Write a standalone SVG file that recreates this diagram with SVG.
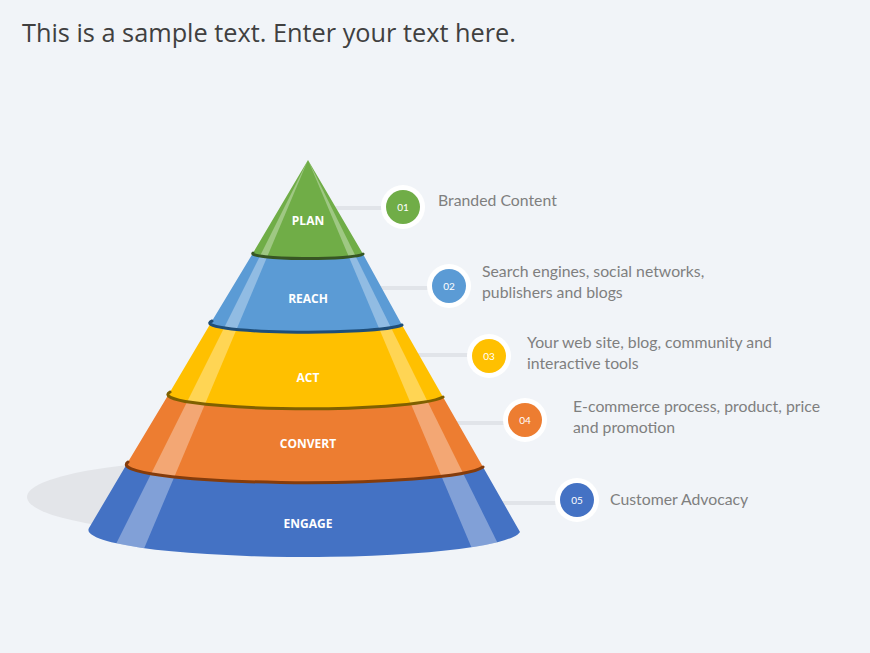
<svg xmlns="http://www.w3.org/2000/svg" xmlns:xlink="http://www.w3.org/1999/xlink" width="870" height="653" viewBox="0 0 870 653">
<style>
.title{font-family:"Open Sans","Liberation Sans",sans-serif;font-size:25.3px;fill:#404040}
.lbl{font-family:"Open Sans","Liberation Sans",sans-serif;font-size:12px;font-weight:bold;fill:#ffffff;text-anchor:middle}
.desc{font-family:Lato,"Liberation Sans",sans-serif;font-size:15.8px;fill:#7f7f7f}
.num{font-family:Lato,"Liberation Sans",sans-serif;font-size:10px;fill:#ffffff;text-anchor:middle}
.halo{fill:#ffffff}
.hl{fill:#ffffff;fill-opacity:0.33}
.conn{stroke:#e1e4e9;stroke-width:4;fill:none}
.edge{fill:none;stroke-width:3;stroke-linecap:round}
</style>
<defs>
<path id="b1" d="M308,160 L253,253 A55 5 0 0 0 363,254 Z"/>
<path id="b2" d="M253,253 L212,321 A95 9 0 0 0 402,325 L363,254 A55 5 0 0 1 253,253 Z"/>
<path id="b3" d="M212,321 L170,392 A137 14 0 0 0 443,397 L402,325 A95 9 0 0 1 212,321 Z"/>
<path id="b4" d="M170,392 L128,462 A178 18 0 0 0 483,467 L443,397 A137 14 0 0 1 170,392 Z"/>
<path id="b5" d="M128,462 L89,528 A216 27 0 0 0 520,532 L483,467 A178 18 0 0 1 128,462 Z"/>
<clipPath id="c1"><use xlink:href="#b1"/></clipPath>
<clipPath id="c2"><use xlink:href="#b2"/></clipPath>
<clipPath id="c3"><use xlink:href="#b3"/></clipPath>
<clipPath id="c4"><use xlink:href="#b4"/></clipPath>
<clipPath id="c5"><use xlink:href="#b5"/></clipPath>
<g id="stripes">
<polygon points="308,160 103,570 135,570"/>
<polygon points="308,160 481,570 511,570"/>
</g>
</defs>
<rect width="870" height="653" fill="#f1f4f8"/>
<text class="title" x="22" y="42">This is a sample text. Enter your text here.</text>
<ellipse cx="230" cy="497" rx="203" ry="37" fill="#e3e5e9"/>
<g id="connectors">
<line class="conn" x1="330" y1="208" x2="390" y2="208"/>
<line class="conn" x1="375" y1="288" x2="435" y2="288"/>
<line class="conn" x1="412" y1="355" x2="475" y2="355"/>
<line class="conn" x1="452" y1="423" x2="510" y2="423"/>
<line class="conn" x1="498" y1="503" x2="560" y2="503"/>
</g>
<g id="engage">
<use xlink:href="#b5" fill="#4472c4"/>
<use xlink:href="#stripes" class="hl" clip-path="url(#c5)"/>
<text class="lbl" x="308" y="528">ENGAGE</text>
</g>
<g id="convert">
<use xlink:href="#b4" fill="#ed7d31"/>
<use xlink:href="#stripes" class="hl" clip-path="url(#c4)"/>
<path class="edge" stroke="#843c0c" d="M128,462 A178 18 0 0 0 483,467"/>
<text class="lbl" x="308" y="448">CONVERT</text>
</g>
<g id="act">
<use xlink:href="#b3" fill="#ffc000"/>
<use xlink:href="#stripes" class="hl" clip-path="url(#c3)"/>
<path class="edge" stroke="#7f6000" d="M170,392 A137 14 0 0 0 443,397"/>
<text class="lbl" x="308" y="382">ACT</text>
</g>
<g id="reach">
<use xlink:href="#b2" fill="#5b9bd5"/>
<use xlink:href="#stripes" class="hl" clip-path="url(#c2)"/>
<path class="edge" stroke="#1f4e79" d="M212,321 A95 9 0 0 0 402,325"/>
<text class="lbl" x="308" y="303">REACH</text>
</g>
<g id="plan">
<use xlink:href="#b1" fill="#70ad47"/>
<use xlink:href="#stripes" class="hl" clip-path="url(#c1)" fill-opacity="0.22"/>
<path class="edge" stroke="#375623" d="M253,253 A55 5 0 0 0 363,254"/>
<text class="lbl" x="308" y="225">PLAN</text>
</g>
<g id="item1">
<circle class="halo" cx="403" cy="207" r="22"/>
<circle cx="403" cy="207" r="17" fill="#70ad47"/>
<text class="num" x="403" y="211">01</text>
<text class="desc" x="438" y="206">Branded Content</text>
</g>
<g id="item2">
<circle class="halo" cx="449" cy="286" r="22"/>
<circle cx="449" cy="286" r="17" fill="#5b9bd5"/>
<text class="num" x="449" y="290">02</text>
<text class="desc" x="482" y="277">Search engines, social networks,</text>
<text class="desc" x="482" y="298">publishers and blogs</text>
</g>
<g id="item3">
<circle class="halo" cx="489" cy="356" r="22"/>
<circle cx="489" cy="356" r="17" fill="#ffc000"/>
<text class="num" x="489" y="360">03</text>
<text class="desc" x="527" y="348">Your web site, blog, community and</text>
<text class="desc" x="527" y="369">interactive tools</text>
</g>
<g id="item4">
<circle class="halo" cx="525" cy="420" r="22"/>
<circle cx="525" cy="420" r="17" fill="#ed7d31"/>
<text class="num" x="525" y="424">04</text>
<text class="desc" x="573" y="412">E-commerce process, product, price</text>
<text class="desc" x="573" y="433">and promotion</text>
</g>
<g id="item5">
<circle class="halo" cx="577" cy="500" r="22"/>
<circle cx="577" cy="500" r="17" fill="#4472c4"/>
<text class="num" x="577" y="504">05</text>
<text class="desc" x="610" y="505">Customer Advocacy</text>
</g>
</svg>
